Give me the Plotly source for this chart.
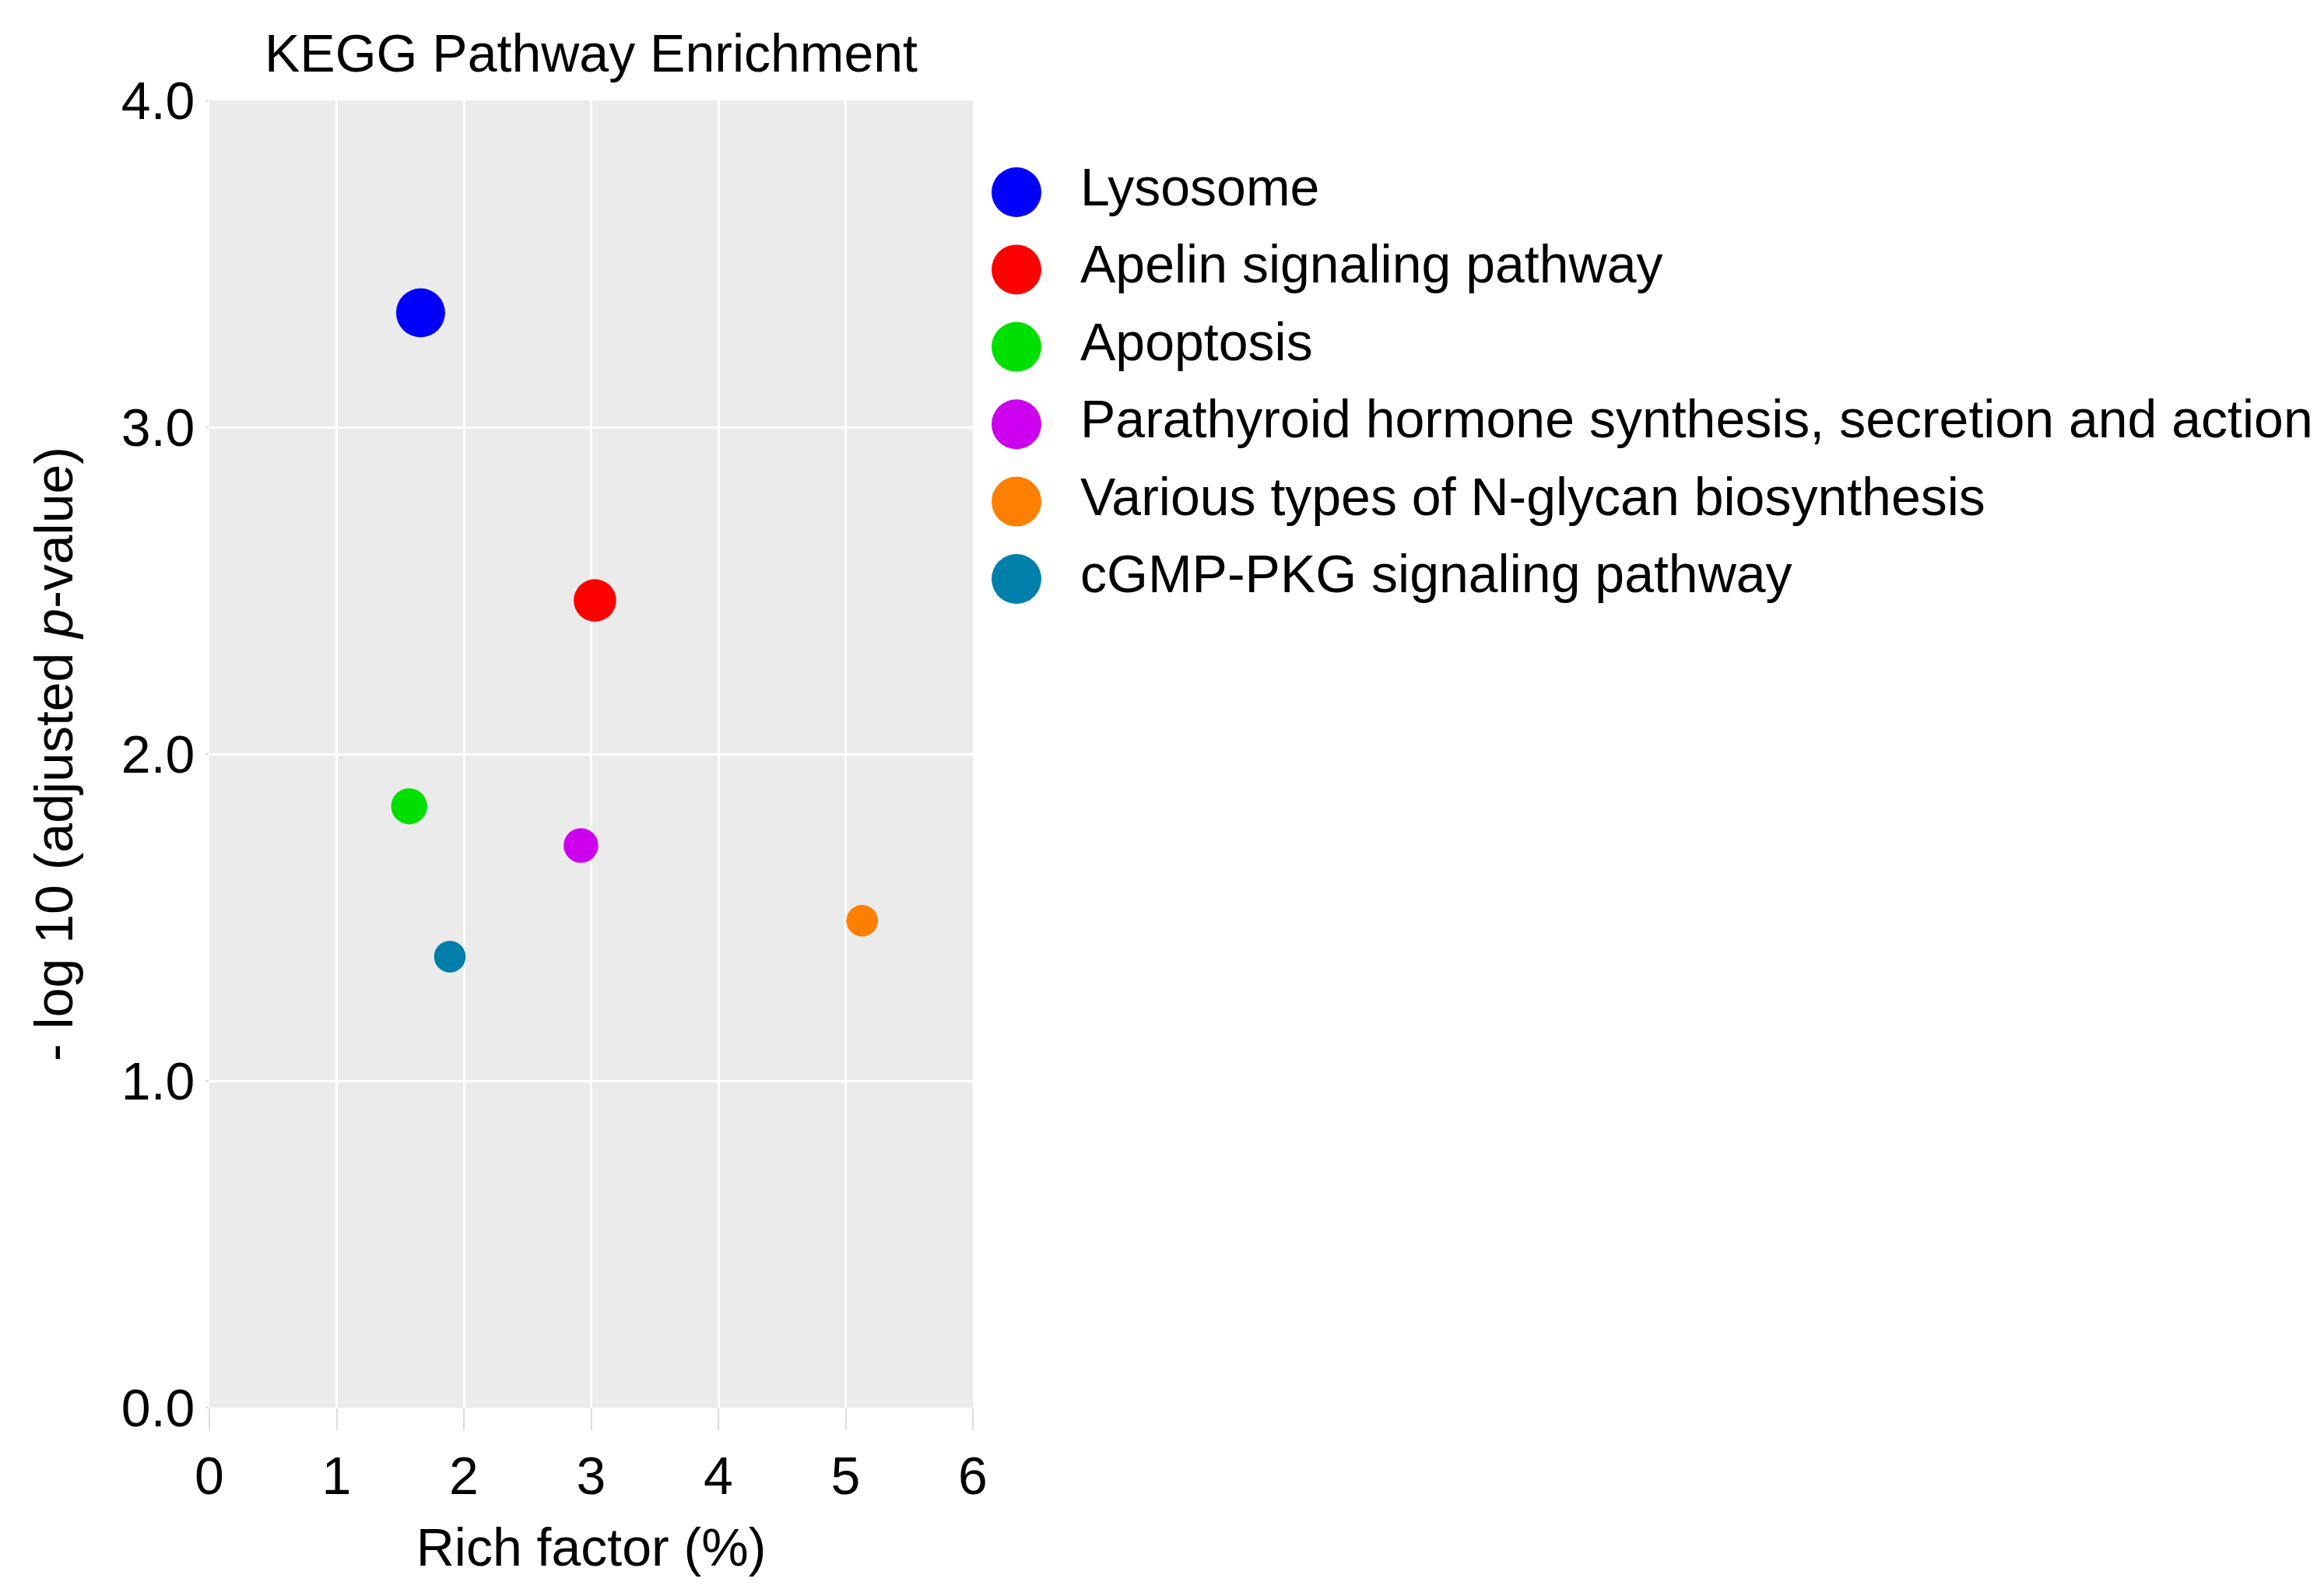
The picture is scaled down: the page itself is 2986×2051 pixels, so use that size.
import plotly.graph_objects as go

# ---------------- data ----------------
pathways = [
    "Lysosome",
    "Apelin signaling pathway",
    "Apoptosis",
    "Parathyroid hormone synthesis, secretion and action",
    "Various types of N-glycan biosynthesis",
    "cGMP-PKG signaling pathway",
]
rich_factor = [1.66, 3.03, 1.57, 2.92, 5.13, 1.89]
neg_log10_padj = [3.35, 2.47, 1.84, 1.72, 1.49, 1.38]
gene_count = [24, 18, 13, 12, 10, 10]
colors = ["#0000FF", "#FF0000", "#00E000", "#CC00EE", "#FF8000", "#007FAA"]
x_ticks = [0, 1, 2, 3, 4, 5, 6]
y_ticks = [0.0, 1.0, 2.0, 3.0, 4.0]

# ---------------- layout constants ----------------
OFF = 8  # default body margin of the html page
W, H = 2986 - 2 * OFF, 2051 - 2 * OFF
FONT = "Liberation Sans, Arial, sans-serif"
FS = 68
plot_l, plot_r, plot_t, plot_b = 269 - OFF, 1250 - OFF, 129 - OFF, 1809 - OFF

leg_x0 = 1254 - OFF
leg_top, leg_bot = 180 - OFF, 800 - OFF
leg_row0, leg_step = 247 - OFF, 99.4
leg_marker_x, leg_text_x = 52, 134
max_diam = 63

fig = go.Figure()

# grey panel background (below gridlines)
fig.add_shape(type="rect", xref="x domain", yref="y domain", x0=0, x1=1, y0=0, y1=1,
              fillcolor="#EBEBEB", line=dict(width=0), layer="below")

for i, name in enumerate(pathways):
    fig.add_trace(go.Scatter(
        x=[rich_factor[i]], y=[neg_log10_padj[i]],
        mode="markers", name=name, showlegend=False,
        marker=dict(color=colors[i], size=[gene_count[i]], sizemode="area",
                    sizeref=2.0 * max(gene_count) / max_diam ** 2,
                    line=dict(width=0), opacity=1),
        xaxis="x", yaxis="y",
    ))

# custom legend (large keys)
idx = list(range(len(pathways)))
fig.add_trace(go.Scatter(
    x=[leg_marker_x] * len(idx), y=idx, mode="markers", showlegend=False,
    marker=dict(color=colors, size=64, line=dict(width=0)),
    xaxis="x2", yaxis="y2", hoverinfo="skip",
))
fig.add_trace(go.Scatter(
    x=[leg_text_x] * len(idx), y=idx, mode="text", text=pathways,
    textposition="middle right", showlegend=False,
    textfont=dict(family=FONT, size=FS, color="black"),
    xaxis="x2", yaxis="y2", hoverinfo="skip",
))

r_top = -(leg_row0 - leg_top) / leg_step
r_bot = (leg_bot - leg_row0) / leg_step

fig.update_layout(
    width=W, height=H,
    margin=dict(l=0, r=0, t=0, b=0, pad=0),
    paper_bgcolor="white",
    plot_bgcolor="white",
    font=dict(family=FONT, size=FS, color="black"),
    showlegend=False,
    title=dict(text="KEGG Pathway Enrichment", x=(plot_l + plot_r) / 2 / W,
               xref="paper", xanchor="center", yref="container",
               y=1 - (68 - OFF) / H, yanchor="middle",
               font=dict(family=FONT, size=FS, color="black")),
    xaxis=dict(
        domain=[plot_l / W, plot_r / W], range=[0, 6],
        tickvals=x_ticks, ticktext=[str(t) for t in x_ticks],
        showgrid=True, gridcolor="white", gridwidth=2.5,
        zeroline=False, showline=False,
        ticks="outside", ticklen=28, tickwidth=2, tickcolor="#DDDDDD",
        tickfont=dict(family=FONT, size=FS, color="black"),
        title=dict(text="Rich factor (%)", standoff=31,
                   font=dict(family=FONT, size=FS, color="black")),
        automargin=False, fixedrange=True,
    ),
    yaxis=dict(
        domain=[1 - plot_b / H, 1 - plot_t / H], range=[0, 4],
        tickvals=y_ticks, ticktext=[f"{t:.1f}" for t in y_ticks],
        showgrid=True, gridcolor="white", gridwidth=2.5,
        zeroline=False, showline=False,
        ticks="outside", ticklen=4, tickwidth=2, tickcolor="#DDDDDD",
        tickfont=dict(family=FONT, size=FS, color="black"),
        title=dict(text="- log 10 (adjusted <i>p</i>-value)", standoff=40,
                   font=dict(family=FONT, size=FS, color="black")),
        automargin=False, fixedrange=True,
    ),
    xaxis2=dict(domain=[leg_x0 / W, 1], range=[0, W - leg_x0], visible=False,
                fixedrange=True, anchor="y2"),
    yaxis2=dict(domain=[1 - leg_bot / H, 1 - leg_top / H], range=[r_bot, r_top],
                visible=False, fixedrange=True, anchor="x2"),
)

fig.write_html("out.html")
